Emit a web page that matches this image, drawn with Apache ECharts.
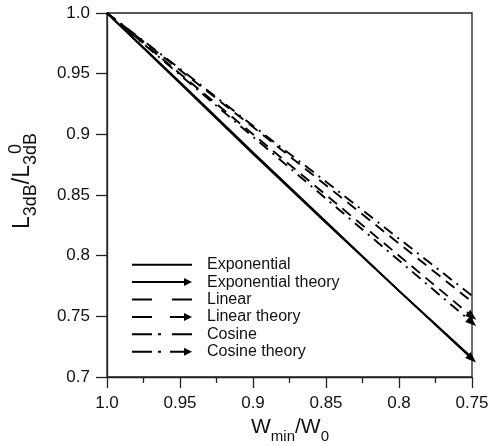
<!DOCTYPE html>
<html><head><meta charset="utf-8">
<script src="https://cdn.jsdelivr.net/npm/echarts@6/dist/echarts.min.js"></script>
<style>html,body{margin:0;padding:0;background:#fff}#c{width:489px;height:446px}</style>
</head><body><div id="c"></div>
<script>
// ---- data ----
const xValues = [1.0, 0.95, 0.9, 0.85, 0.8, 0.75];
const exponential       = [1.0, 0.943, 0.885, 0.828, 0.771, 0.716];
const exponentialTheory = [1.0, 0.942, 0.884, 0.827, 0.771, 0.715];
const linear            = [1.0, 0.953, 0.906, 0.858, 0.810, 0.762];
const linearTheory      = [1.0, 0.950, 0.900, 0.850, 0.800, 0.750];
const cosine            = [1.0, 0.954, 0.907, 0.861, 0.814, 0.767];
const cosineTheory      = [1.0, 0.949, 0.898, 0.847, 0.796, 0.745];
const seriesNames = ['Exponential', 'Exponential theory', 'Linear', 'Linear theory', 'Cosine', 'Cosine theory'];
const xTickLabels = ['1.0', '0.95', '0.9', '0.85', '0.8', '0.75'];
const yTickLabels = ['0.7', '0.75', '0.8', '0.85', '0.9', '0.95', '1.0'];

// ---- styles ----
const FONT = "'Liberation Sans', Arial, sans-serif";
const DASH = [11, 7];
const DASHDOT = [11, 6, 2, 6];
const legendIcons = {
  'Exponential': 'path://M0,3h60v2h-60z',
  'Exponential theory': 'path://M0,3h52v2h-52z M52,0L60,4L52,8z',
  'Linear': 'path://M0,3h20v2h-20z M40,3h20v2h-20z',
  'Linear theory': 'path://M0,3h20v2h-20z M38,3h14v2h-14z M52,0L60,4L52,8z',
  'Cosine': 'path://M0,3h20v2h-20z M26,3h3v2h-3z M40,3h20v2h-20z',
  'Cosine theory': 'path://M0,3h20v2h-20z M26,3h3v2h-3z M38,3h14v2h-14z M52,0L60,4L52,8z'
};

function mk(name, ys, dash, arrow) {
  const n = xValues.length;
  const s = {
    name, type: 'line', data: xValues.map((x, i) => [x, ys[i]]),
    showSymbol: false, symbol: 'none', animation: false,
    lineStyle: { color: '#000', width: 1.9, type: dash },
    itemStyle: { color: '#000' }
  };
  if (arrow) {
    s.markLine = {
      silent: true, animation: false, symbol: ['none', 'triangle'], symbolSize: [8, 11],
      lineStyle: { width: 0, color: '#000', type: 'solid' }, label: { show: false },
      emphasis: { disabled: true },
      data: [[{ coord: [xValues[n - 2], ys[n - 2]] }, { coord: [xValues[n - 1], ys[n - 1]] }]]
    };
  }
  return s;
}

function fmt(labels) {
  return v => { const t = labels.find(l => Math.abs(parseFloat(l) - v) < 1e-9); return t === undefined ? '' : t; };
}

const axisCommon = {
  axisLine: { show: true, onZero: false, lineStyle: { color: '#222', width: 1.3 } },
  axisTick: { show: true, inside: false, length: 11, lineStyle: { color: '#222', width: 1.3 } },
  splitLine: { show: false }
};

// measure for y title stacked sup/sub
const ctx = document.createElement('canvas').getContext('2d');
function tw(t, size) { ctx.font = size + 'px ' + FONT; return ctx.measureText(t).width; }
const MAIN = 21, SUB = 15;
const YMAIN = 23, YSUB = 18;
const yPrefixW = tw('L', YMAIN) + tw('3dB', YSUB) + tw('/L', YMAIN);
const yTotalW = yPrefixW + tw('3dB', YSUB);
const yTitleCX = 11, yTitleCY = 181;

const chart = echarts.init(document.getElementById('c'), null, { renderer: 'canvas' });
chart.setOption({
  animation: false,
  backgroundColor: '#fff',
  grid: { left: 107, right: 17, top: 13, bottom: 69, show: true, borderColor: '#222', borderWidth: 1.3, outerBoundsMode: 'none', containLabel: false },
  xAxis: Object.assign({
    type: 'value', inverse: true, min: 0.75, max: 1.0, interval: 0.05,
    minorTick: { show: true, splitNumber: 2, length: 6, lineStyle: { color: '#222', width: 1.3 } },
    minorSplitLine: { show: false },
    axisLabel: { margin: 18, fontSize: 17, color: '#111', fontFamily: FONT, formatter: fmt(xTickLabels) }
  }, axisCommon),
  yAxis: Object.assign({
    type: 'value', min: 0.7, max: 1.0, interval: 0.05,
    axisLabel: { margin: 17, fontSize: 17, color: '#111', fontFamily: FONT, formatter: fmt(yTickLabels) }
  }, axisCommon),
  legend: {
    orient: 'vertical', left: 132, top: 256, itemWidth: 60, itemHeight: 8, itemGap: 0,
    selectedMode: false, padding: 0,
    itemStyle: { borderWidth: 0 },
    textStyle: { fontSize: 16, fontFamily: FONT, color: '#111', lineHeight: 17.4, padding: [0, 0, 0, 10] },
    data: seriesNames.map(n => ({ name: n, icon: legendIcons[n] }))
  },
  series: [
    mk(seriesNames[0], exponential, 'solid', false),
    mk(seriesNames[1], exponentialTheory, 'solid', true),
    mk(seriesNames[2], linear, DASH, false),
    mk(seriesNames[3], linearTheory, DASH, true),
    mk(seriesNames[4], cosine, DASHDOT, false),
    mk(seriesNames[5], cosineTheory, DASHDOT, true)
  ],
  graphic: [
    {
      type: 'text', x: 290, y: 417, silent: true,
      style: {
        text: '{a|W}{b|min}{a|/W}{b|0}', align: 'center', verticalAlign: 'top',
        rich: {
          a: { fontSize: MAIN, fontFamily: FONT, fill: '#111', lineHeight: MAIN, verticalAlign: 'top' },
          b: { fontSize: SUB, fontFamily: FONT, fill: '#111', lineHeight: SUB, verticalAlign: 'top', padding: [12, 0, 0, 0] }
        }
      }
    },
    {
      type: 'group', x: yTitleCX, y: yTitleCY, rotation: Math.PI / 2, silent: true,
      children: [
        {
          type: 'text', x: 0, y: 0,
          style: {
            text: '{a|L}{b|3dB}{a|/L}{b|3dB}', align: 'center', verticalAlign: 'top',
            rich: {
              a: { fontSize: YMAIN, fontFamily: FONT, fill: '#111', lineHeight: YMAIN, verticalAlign: 'top' },
              b: { fontSize: YSUB, fontFamily: FONT, fill: '#111', lineHeight: YSUB, verticalAlign: 'top', padding: [11, 0, 0, 0] }
            }
          }
        },
        {
          type: 'text', x: -yTotalW / 2 + yPrefixW + tw('3dB', YSUB) / 2, y: -4,
          style: { text: '0', font: YSUB + 'px ' + FONT, fill: '#111', align: 'center', verticalAlign: 'top' }
        }
      ]
    }
  ]
});
</script></body></html>
